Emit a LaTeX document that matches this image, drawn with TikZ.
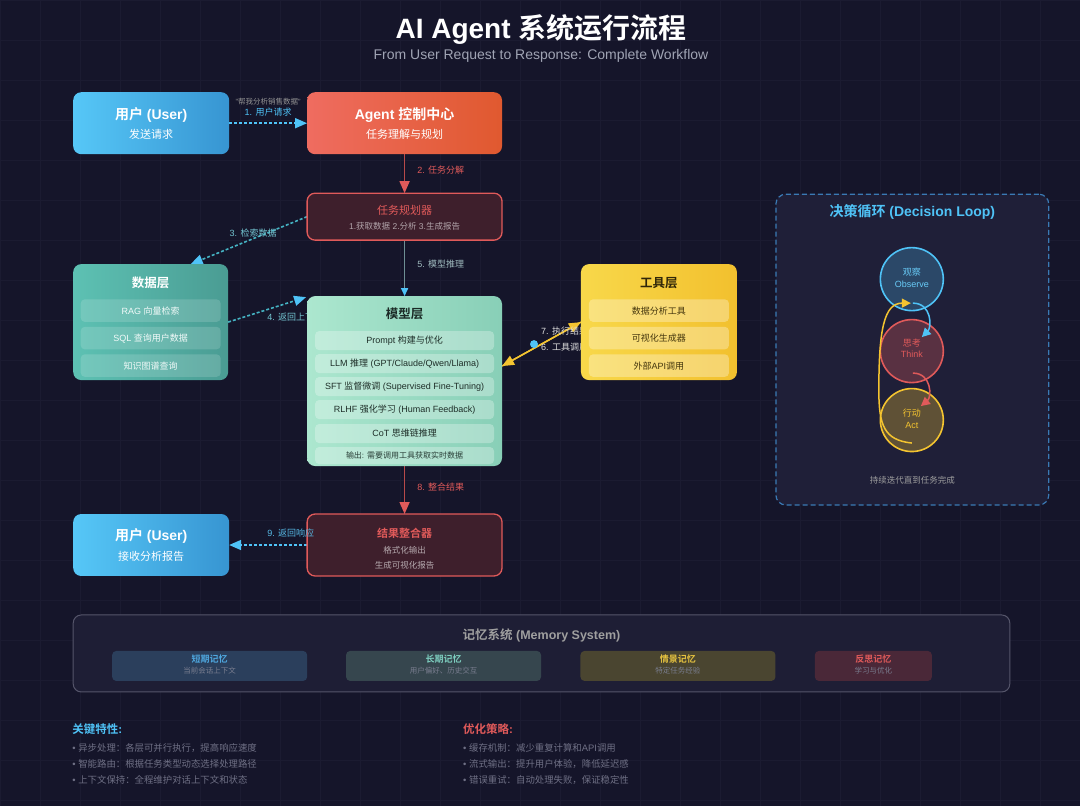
\documentclass[tikz,border=0pt]{standalone}
\usepackage{fontspec}
\setmainfont{Liberation Sans}
\newfontfamily\cjk{Noto Sans CJK SC}[BoldFont={Noto Sans CJK SC Bold}]
\usetikzlibrary{arrows.meta,calc}
\pgfdeclarelayer{bgl}
\pgfdeclarelayer{back}
\pgfsetlayers{bgl,back,main}

\XeTeXinterchartokenstate=1
\newXeTeXintercharclass\cjkcls
\makeatletter
\count@="3000
\loop \XeTeXcharclass\count@=\cjkcls \ifnum\count@<"303F \advance\count@ 1 \repeat
\count@="4E00
\loop \XeTeXcharclass\count@=\cjkcls \ifnum\count@<"9FFF \advance\count@ 1 \repeat
\count@="FF00
\loop \XeTeXcharclass\count@=\cjkcls \ifnum\count@<"FFEF \advance\count@ 1 \repeat
\makeatother
\XeTeXinterchartoks 0 \cjkcls = {\begingroup\cjk}
\XeTeXinterchartoks 4095 \cjkcls = {\begingroup\cjk}
\XeTeXinterchartoks \cjkcls 0 = {\endgroup}
\XeTeXinterchartoks \cjkcls 4095 = {\endgroup}

\definecolor{bgc}{HTML}{15152A}
\definecolor{gridc}{HTML}{1B1B31}
\definecolor{uA}{HTML}{56C7F7}
\definecolor{uB}{HTML}{3795D2}
\definecolor{aA}{HTML}{EF6C60}
\definecolor{aB}{HTML}{E0592F}
\definecolor{redl}{HTML}{E05A5A}
\definecolor{redfill}{HTML}{3E1F2C}
\definecolor{redline}{HTML}{B84A4A}
\definecolor{dA}{HTML}{5DC1B3}
\definecolor{dB}{HTML}{4A9C93}
\definecolor{mA}{HTML}{ACE7CF}
\definecolor{mB}{HTML}{88CFB7}
\definecolor{tA}{HTML}{F8D84A}
\definecolor{tB}{HTML}{F2C02E}
\definecolor{blu}{HTML}{4FC3F7}
\definecolor{teal}{HTML}{45B3C3}
\definecolor{yel}{HTML}{F4C430}
\definecolor{panelfill}{HTML}{1F1F38}
\definecolor{paneldash}{HTML}{3A7AB5}
\definecolor{memfill}{HTML}{1E1E35}
\definecolor{memline}{HTML}{55556A}
\definecolor{graytxt}{HTML}{6F7085}
\definecolor{subtc}{HTML}{A0A4B4}
\definecolor{msA}{HTML}{2B3F5C}
\definecolor{msT}{HTML}{4FA8E0}
\definecolor{mlA}{HTML}{36464E}
\definecolor{mlT}{HTML}{7ECFC0}
\definecolor{meA}{HTML}{4A4530}
\definecolor{meT}{HTML}{E8C440}
\definecolor{mrA}{HTML}{4A2838}
\definecolor{mrT}{HTML}{E05A5A}
\definecolor{memsubc}{HTML}{7A7E90}

\tikzset{
  rbox/.style={rectangle, rounded corners=8pt, inner sep=0pt, outer sep=0pt},
  txbig/.style={font=\fontsize{14}{17}\selectfont\bfseries, text=white, inner sep=0pt},
  txsub/.style={font=\fontsize{11}{13}\selectfont, text=white, inner sep=0pt},
  txlbl/.style={font=\fontsize{9}{11}\selectfont, inner sep=0pt},
  txitem/.style={font=\fontsize{9}{11}\selectfont, inner sep=0pt},
  txlayer/.style={font=\fontsize{12.5}{15}\selectfont\bfseries, inner sep=0pt},
  itembox/.style={rectangle, rounded corners=4pt, inner sep=0pt, minimum width=140pt, minimum height=22.5pt},
  mitem/.style={rectangle, rounded corners=4pt, inner sep=0pt, minimum width=179pt, minimum height=19pt, fill=white, fill opacity=0.28},
  dasharrow/.style={line width=1.6pt, dash pattern=on 3pt off 2pt},
  tipB/.style={-{Triangle[length=12pt,width=10pt,fill=blu,color=blu]}},
  tipR/.style={-{Triangle[length=12pt,width=10pt,fill=redl,color=redl]}},
  tipY/.style={-{Triangle[length=12pt,width=10pt,fill=yel,color=yel]}},
  memtitle/.style={font=\fontsize{9}{11}\selectfont\bfseries, inner sep=0pt},
  memsub/.style={font=\fontsize{7.5}{9}\selectfont, text=memsubc, inner sep=0pt},
  membox/.style={rectangle, rounded corners=4pt, inner sep=0pt, minimum height=30pt},
  bullet/.style={font=\fontsize{9.4}{11}\selectfont, text=graytxt, anchor=west, inner sep=0pt},
  notehead/.style={font=\fontsize{11.5}{13}\selectfont\bfseries, anchor=west, inner sep=0pt},
  ring/.style={circle, minimum size=63pt, line width=1.6pt, inner sep=0pt},
  looptip/.style={line width=1.5pt},
}

\begin{document}
\begin{tikzpicture}[x=1pt,y=-1pt]
\begin{pgfonlayer}{bgl}
\fill[bgc] (0,0) rectangle (1080,806);
\foreach \gx in {0,40,...,1080} \draw[gridc, line width=0.5pt] (\gx,0) -- (\gx,806);
\foreach \gy in {0,40,...,800} \draw[gridc, line width=0.5pt] (0,\gy) -- (1080,\gy);
\end{pgfonlayer}
\useasboundingbox (0,0) rectangle (1080,806);

% titles
\node[font=\fontsize{28}{32}\selectfont\bfseries, text=white, inner sep=0pt] (title) at (541,29) {AI Agent 系统运行流程};
\node[font=\fontsize{14}{16}\selectfont, text=subtc, inner sep=0pt] (subtitle) at (541,56) {From User Request to Response: Complete Workflow};

% user top
\node[rbox, minimum width=156pt, minimum height=62pt, left color=uA, right color=uB] (user1) at (151,123) {};
\node[txbig] (user1t) at (151,115) {用户 (User)};
\node[txsub] (user1s) at (151,134) {发送请求};

% agent
\node[rbox, minimum width=195pt, minimum height=62pt, left color=aA, right color=aB] (agent) at (404.5,123) {};
\node[txbig] (agentt) at (404.5,115) {Agent 控制中心};
\node[txsub] (agents) at (404.5,134) {任务理解与规划};

% planner
\node[rbox, minimum width=195pt, minimum height=47pt, fill=redfill, draw=redl, line width=1.3pt] (planner) at (404.5,216.5) {};
\node[font=\fontsize{11}{13}\selectfont, text=redl, inner sep=0pt] (plannert) at (404.5,210) {任务规划器};
\node[font=\fontsize{8.5}{10}\selectfont, text=white!60!redfill, inner sep=0pt] (planners) at (404.5,226) {1.获取数据 2.分析 3.生成报告};

% data layer
\node[rbox, minimum width=155pt, minimum height=116pt, left color=dA, right color=dB] (data) at (150.5,322) {};
\node[txlayer, text=white] (datat) at (150.5,283) {数据层};
\node[itembox, fill=white, fill opacity=0.15] (d1) at (150.5,310.5) {};
\node[itembox, fill=white, fill opacity=0.15] (d2) at (150.5,338) {};
\node[itembox, fill=white, fill opacity=0.15] (d3) at (150.5,365.5) {};
\node[txitem, text=white!92!dA] (d1t) at (d1) {RAG 向量检索};
\node[txitem, text=white!92!dA] (d2t) at (d2) {SQL 查询用户数据};
\node[txitem, text=white!92!dA] (d3t) at (d3) {知识图谱查询};

% model layer
\node[rbox, minimum width=195pt, minimum height=170pt, left color=mA, right color=mB] (model) at (404.5,381) {};
\node[txlayer, text=black!80!mB] (modelt) at (404.5,314) {模型层};
\node[mitem] (m1) at (404.5,340.5) {};
\node[mitem] (m2) at (404.5,363.5) {};
\node[mitem] (m3) at (404.5,386.5) {};
\node[mitem] (m4) at (404.5,409.5) {};
\node[mitem] (m5) at (404.5,433.5) {};
\node[mitem, minimum height=17pt] (m6) at (404.5,455.5) {};
\node[txitem, text=black!78!mB] (m1t) at (m1) {Prompt 构建与优化};
\node[txitem, text=black!78!mB] (m2t) at (m2) {LLM 推理 (GPT/Claude/Qwen/Llama)};
\node[txitem, text=black!78!mB] (m3t) at (m3) {SFT 监督微调 (Supervised Fine-Tuning)};
\node[txitem, text=black!78!mB] (m4t) at (m4) {RLHF 强化学习 (Human Feedback)};
\node[txitem, text=black!78!mB] (m5t) at (m5) {CoT 思维链推理};
\node[font=\fontsize{8}{10}\selectfont, text=black!70!mB, inner sep=0pt] (m6t) at (m6) {输出: 需要调用工具获取实时数据};

% tool layer
\node[rbox, minimum width=156pt, minimum height=116pt, left color=tA, right color=tB] (tool) at (659,322) {};
\node[txlayer, text=black!80!tB] (toolt) at (659,283) {工具层};
\node[itembox, fill=white, fill opacity=0.3] (t1) at (659,310.5) {};
\node[itembox, fill=white, fill opacity=0.3] (t2) at (659,338) {};
\node[itembox, fill=white, fill opacity=0.3] (t3) at (659,365.5) {};
\node[txitem, text=black!72!tB] (t1t) at (t1) {数据分析工具};
\node[txitem, text=black!72!tB] (t2t) at (t2) {可视化生成器};
\node[txitem, text=black!72!tB] (t3t) at (t3) {外部API调用};

% result
\node[rbox, minimum width=195pt, minimum height=62pt, fill=redfill, draw=redl, line width=1.3pt] (result) at (404.5,545) {};
\node[font=\fontsize{11}{13}\selectfont\bfseries, text=redl, inner sep=0pt] (resultt) at (404.5,533) {结果整合器};
\node[font=\fontsize{8.5}{10}\selectfont, text=white!62!redfill, inner sep=0pt] (results1) at (404.5,550) {格式化输出};
\node[font=\fontsize{8.5}{10}\selectfont, text=white!62!redfill, inner sep=0pt] (results2) at (404.5,565) {生成可视化报告};

% user bottom
\node[rbox, minimum width=156pt, minimum height=62pt, left color=uA, right color=uB] (user2) at (151,545) {};
\node[txbig] (user2t) at (151,536) {用户 (User)};
\node[txsub] (user2s) at (151,556) {接收分析报告};

% connectors on back layer
\begin{pgfonlayer}{back}
\draw[dasharrow, draw=blu, tipB] (user1.east) -- (agent.west);
\draw[line width=1.5pt, draw=redline, tipR] (agent.south) -- (planner.north);
\draw[dasharrow, draw=teal, tipB] (planner.west) -- ($(data.north)+(40,0)$);
\draw[line width=1.5pt, draw=gray!70!teal, -{Triangle[length=8pt,width=7pt,fill=blu,color=blu]}] (planner.south) -- (model.north);
\draw[dasharrow, draw=teal, tipB] (data.east) -- ($(model.north west)+(-1,1)$);
\draw[line width=1.5pt, draw=yel, tipY] ($(model.east)+(0,-15)$) -- (tool.west);
\draw[line width=1.5pt, draw=yel, tipY] (tool.west) -- ($(model.east)+(0,-15)$);
\draw[line width=1.5pt, draw=redline, tipR] (model.south) -- (result.north);
\draw[dasharrow, draw=blu, tipB] (result.west) -- (user2.east);
\node[txlbl, text=teal!75!white, anchor=west] (lbl4) at (267,317) {4. 返回上下文};
\node[txlbl, text=white!75!gray, anchor=west] (lbl7) at (541,331) {7. 执行结果};
\node[txlbl, text=white!75!gray, anchor=west] (lbl6) at (541,347) {6. 工具调用};
\end{pgfonlayer}

% labels
\node[font=\fontsize{7.5}{9}\selectfont, text=gray!85!white, inner sep=0pt] (quote) at (268,101) {"帮我分析销售数据"};
\node[txlbl, text=blu] (lbl1) at (268,112) {1. 用户请求};
\node[txlbl, text=redl, anchor=west] (lbl2) at (417,170) {2. 任务分解};
\node[txlbl, text=teal!75!white] (lbl3) at (253,233) {3. 检索数据};
\node[txlbl, text=white!60!teal!60!gray, anchor=west] (lbl5) at (417,264) {5. 模型推理};
\node[circle, fill=blu, minimum size=8pt, inner sep=0pt] (dot) at (534,344) {};
\node[txlbl, text=redl, anchor=west] (lbl8) at (417,487) {8. 整合结果};
\node[txlbl, text=blu!85!gray, anchor=west] (lbl9) at (267,533) {9. 返回响应};

% decision loop panel
\node[rbox, rounded corners=10pt, minimum width=273pt, minimum height=311pt, fill=panelfill, draw=paneldash, line width=1.2pt, dash pattern=on 5pt off 3pt] (loop) at (912.5,349.5) {};
\node[font=\fontsize{14}{17}\selectfont\bfseries, text=blu, inner sep=0pt] (loopt) at (912.5,212) {决策循环 (Decision Loop)};
\node[ring, draw=blu, fill=blu!25!panelfill] (obs) at (912,279) {};
\node[ring, draw=redl, fill=redl!30!panelfill] (think) at (912,351) {};
\node[ring, draw=yel, fill=yel!30!panelfill] (act) at (912,420) {};
\node[txitem, text=blu!85!white] (obst1) at (912,272) {观察};
\node[txitem, text=blu!85!white] (obst2) at (912,284) {Observe};
\node[txitem, text=redl] (thinkt1) at (912,343) {思考};
\node[txitem, text=redl] (thinkt2) at (912,354) {Think};
\node[txitem, text=yel] (actt1) at (912,413) {行动};
\node[txitem, text=yel] (actt2) at (912,425) {Act};
\draw[looptip, draw=blu, -{Triangle[length=9pt,width=9pt,fill=blu,color=blu]}] ($(obs)+(1,24)$) .. controls ($(obs)+(20,24)$) and ($(obs)+(20,48)$) .. ($(think)+(10,-14)$);
\draw[looptip, draw=redl, -{Triangle[length=9pt,width=9pt,fill=redl,color=redl]}] ($(think)+(1,22)$) .. controls ($(think)+(20,22)$) and ($(think)+(20,46)$) .. ($(act)+(9,-14)$);
\draw[looptip, draw=yel, -{Triangle[length=9pt,width=9pt,fill=yel,color=yel]}] ($(act)+(0,23)$) .. controls ($(act)+(-28,20)$) and ($(act)+(-33,5)$) .. ($(act)+(-33,-30)$) .. controls ($(act)+(-33,-90)$) and ($(obs)+(-28,24)$) .. ($(obs)+(-1,24)$);
\node[font=\fontsize{8.5}{10}\selectfont, text=gray!75!white, inner sep=0pt] (loops) at (912.5,480) {持续迭代直到任务完成};

% memory system
\node[rbox, minimum width=937pt, minimum height=77pt, fill=memfill, draw=memline, line width=1pt] (mem) at (541.5,653.5) {};
\node[font=\fontsize{12.5}{15}\selectfont\bfseries, text=gray!75!white, inner sep=0pt] (memt) at (541.5,635) {记忆系统 (Memory System)};
\node[membox, minimum width=195pt, fill=msA] (ms) at (209.5,666) {};
\node[membox, minimum width=195pt, fill=mlA] (ml) at (443.5,666) {};
\node[membox, minimum width=195pt, fill=meA] (me) at (678,666) {};
\node[membox, minimum width=117pt, fill=mrA] (mr) at (873.5,666) {};
\node[memtitle, text=msT] (mst) at (209.5,659) {短期记忆};
\node[memsub] (mss) at (209.5,671) {当前会话上下文};
\node[memtitle, text=mlT] (mlt) at (443.5,659) {长期记忆};
\node[memsub] (mls) at (443.5,671) {用户偏好、历史交互};
\node[memtitle, text=meT] (met) at (678,659) {情景记忆};
\node[memsub] (mes) at (678,671) {特定任务经验};
\node[memtitle, text=mrT] (mrt) at (873.5,659) {反思记忆};
\node[memsub] (mrs) at (873.5,671) {学习与优化};

% bottom notes
\node[notehead, text=blu] (keyt) at (72,729) {关键特性:};
\node[bullet] (k1) at (72,748) {• 异步处理：各层可并行执行，提高响应速度};
\node[bullet] (k2) at (72,764) {• 智能路由：根据任务类型动态选择处理路径};
\node[bullet] (k3) at (72,780) {• 上下文保持：全程维护对话上下文和状态};
\node[notehead, text=redl] (optt) at (463,729) {优化策略:};
\node[bullet] (o1) at (463,748) {• 缓存机制：减少重复计算和API调用};
\node[bullet] (o2) at (463,764) {• 流式输出：提升用户体验，降低延迟感};
\node[bullet] (o3) at (463,780) {• 错误重试：自动处理失败，保证稳定性};
\end{tikzpicture}
\end{document}
